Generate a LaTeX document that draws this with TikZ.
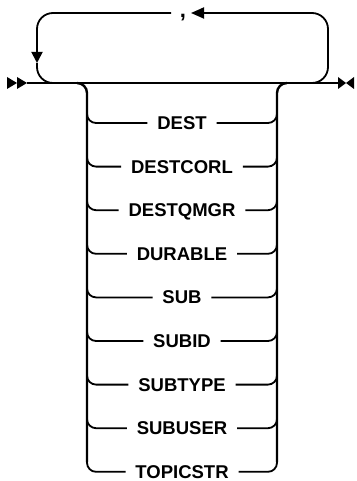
\documentclass[tikz,border=0pt]{standalone}
\usepackage{fontspec}
\setmainfont{Liberation Sans}
\usetikzlibrary{arrows.meta}

\begin{document}
\begin{tikzpicture}[x=1pt, y=-1pt, line width=1.8pt,
    item/.style={font=\fontsize{18.5}{22}\selectfont\bfseries, inner xsep=9pt, inner ysep=0pt, text height=13pt, text depth=0pt},
    bar/.style={line width=2.4pt, rounded corners=10pt},
    branch/.style={rounded corners=9pt}]

    \useasboundingbox (0,0) rectangle (356,481);

    % Main line with start and end marks
    \coordinate (start) at (27,83);
    \coordinate (stop) at (338,83);
    \fill (7,77) -- (17,83) -- (7,89) -- cycle;
    \fill (17,77) -- (27,83) -- (17,89) -- cycle;
    \fill (338,77) -- (346,83) -- (338,89) -- cycle;
    \fill (354,77) -- (346,83) -- (354,89) -- cycle;
    \draw (start) -- (stop);

    % Repeat loop with separator
    \node[anchor=base, font=\fontsize{22}{24}\selectfont\bfseries, inner sep=0pt] (comma) at (183,18) {,};
    \coordinate (loopout) at (310,83);
    \coordinate (loopin) at (55,83);
    \coordinate (downtip) at (37,63);
    \draw[rounded corners=16pt, -{Triangle[length=13pt, width=11pt]}] (loopout) -| (328,13) -- (191,13);
    \draw[rounded corners=16pt, -{Triangle[length=11pt, width=11pt]}] (171,13) -| (downtip);
    \draw[rounded corners=16pt] (downtip) |- (loopin);

    % Choice bars
    \draw[bar] (77,83) -| (87,462);
    \draw[bar] (287,83) -| (277,462);

    % Choice items
    \foreach \name [count=\i from 0] in {DEST, DESTCORL, DESTQMGR, DURABLE, SUB, SUBID, SUBTYPE, SUBUSER, TOPICSTR} {
        \node[item] (\name) at (182, 123+43.6*\i) {\name};
        \draw[branch] (87, 111+43.6*\i) |- (\name.west);
        \draw[branch] (\name.east) -| (277, 111+43.6*\i);
    }

\end{tikzpicture}
\end{document}
